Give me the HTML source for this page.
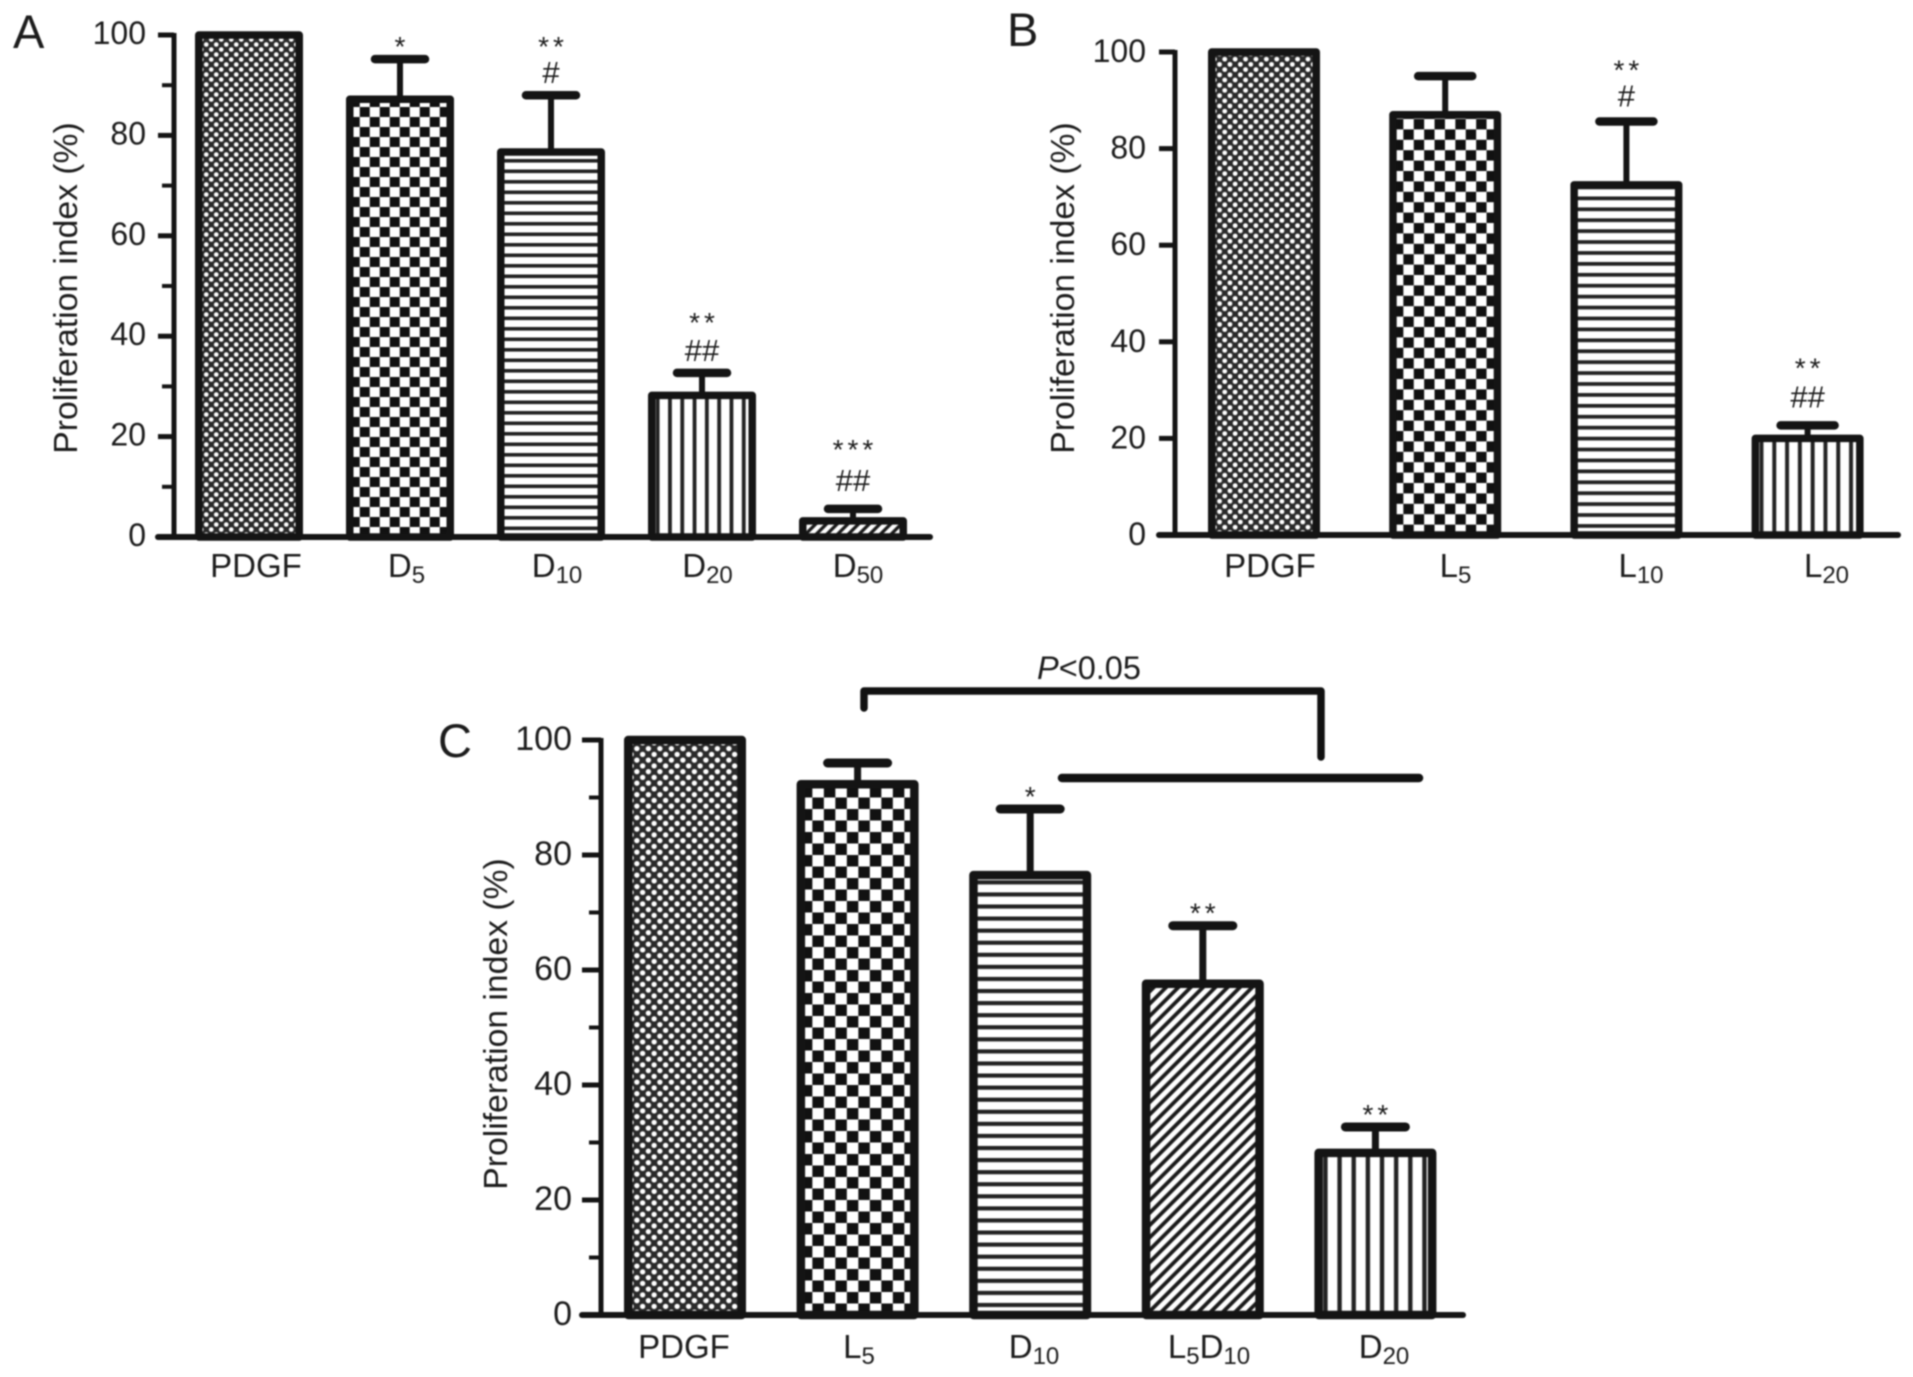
<!DOCTYPE html>
<html>
<head>
<meta charset="utf-8">
<title>Proliferation index panels</title>
<style>
html,body{margin:0;padding:0;background:#fff;width:1913px;height:1377px;overflow:hidden}
svg{display:block;filter:blur(0.9px)}
text{font-family:"Liberation Sans",sans-serif;fill:#1c1c1c}
</style>
</head>
<body>
<svg id="figure" xmlns="http://www.w3.org/2000/svg" width="1913" height="1377" viewBox="0 0 1913 1377">
<defs id="defs"></defs>
<rect x="0" y="0" width="1913" height="1377" fill="#fff"/>
<g id="plots"></g>
<g>
<text x="1089" y="679" text-anchor="middle" font-size="32.5"><tspan font-style="italic">P</tspan>&lt;0.05</text>
<path d="M864 708 V691 H1321 V757" fill="none" stroke="#111" stroke-width="7.5" stroke-linecap="round" stroke-linejoin="round"/>
<path d="M1062 778 H1419" fill="none" stroke="#111" stroke-width="8.5" stroke-linecap="round"/>
</g>
</svg>
<script>
// Panel A
const categoriesA = ['PDGF', 'D5', 'D10', 'D20', 'D50'];
const valuesA = [100, 87.2, 76.7, 28.2, 3.2];
const errorTopsA = [null, 95.2, 88, 32.7, 5.6];
const starsA = ['', '*', '**', '**', '***'];
const hashesA = ['', '', '#', '##', '##'];
const patternsA = ['dots', 'checker', 'hlines', 'vlines', 'diag'];

// Panel B
const categoriesB = ['PDGF', 'L5', 'L10', 'L20'];
const valuesB = [100, 87, 72.5, 20];
const errorTopsB = [null, 95, 85.6, 22.7];
const starsB = ['', '', '**', '**'];
const hashesB = ['', '', '#', '##'];
const patternsB = ['dots', 'checker', 'hlines', 'vlines'];

// Panel C
const categoriesC = ['PDGF', 'L5', 'D10', 'L5D10', 'D20'];
const valuesC = [100, 92.3, 76.5, 57.6, 28.2];
const errorTopsC = [null, 96, 88, 67.7, 32.7];
const starsC = ['', '', '*', '**', '**'];
const hashesC = ['', '', '', '', ''];
const patternsC = ['dots', 'checker', 'hlines', 'diag', 'vlines'];

// Shared axis
const majorTicks = [0, 20, 40, 60, 80, 100];
const minorTicks = [10, 30, 50, 70, 90];
const yAxisTitle = 'Proliferation index (%)';

const NS = 'http://www.w3.org/2000/svg';
const DARK = '#141414';
const plots = document.getElementById('plots');
const defs = document.getElementById('defs');

function make(tag, attrs, parent) {
  const node = document.createElementNS(NS, tag);
  for (const k in attrs) node.setAttribute(k, attrs[k]);
  if (parent) parent.appendChild(node);
  return node;
}

function makePattern(id, kind, scale, ox, oy) {
  const cell = { dots: 10, checker: 20, hlines: 10.5, vlines: 12.3, diag: 10.7 }[kind];
  const p = make('pattern', {
    id: id,
    patternUnits: 'userSpaceOnUse',
    width: cell,
    height: kind === 'vlines' ? 10 : cell,
    patternTransform: 'translate(' + ox + ' ' + oy + ') scale(' + scale + ')'
  }, defs);
  if (kind === 'dots') {
    make('rect', { x: 0, y: 0, width: 10, height: 10, fill: '#2a2a2a' }, p);
    make('circle', { cx: 2.5, cy: 2.5, r: 2.3, fill: '#ffffff' }, p);
    make('circle', { cx: 7.5, cy: 7.5, r: 2.3, fill: '#ffffff' }, p);
  } else if (kind === 'checker') {
    make('rect', { x: 0, y: 0, width: 20, height: 20, fill: '#fff' }, p);
    make('rect', { x: 0, y: 0, width: 10, height: 10, fill: '#111' }, p);
    make('rect', { x: 10, y: 10, width: 10, height: 10, fill: '#111' }, p);
  } else if (kind === 'hlines') {
    make('rect', { x: 0, y: 0, width: 10.5, height: 10.5, fill: '#fff' }, p);
    make('rect', { x: 0, y: 0, width: 10.5, height: 3.6, fill: '#222' }, p);
  } else if (kind === 'vlines') {
    make('rect', { x: 0, y: 0, width: 12.3, height: 10, fill: '#fff' }, p);
    make('rect', { x: 4, y: 0, width: 3.8, height: 10, fill: '#222' }, p);
  } else {
    make('rect', { x: 0, y: 0, width: 10.7, height: 10.7, fill: '#fff' }, p);
    make('path', { d: 'M-2.7 2.7 L2.7 -2.7 M0 10.7 L10.7 0 M8 13.4 L13.4 8', stroke: '#1a1a1a', 'stroke-width': 3.3 }, p);
  }
}

function drawCategoryLabel(parent, text, x, baseline, size, subSize) {
  const t = make('text', { x: x, y: baseline, 'text-anchor': 'middle', 'font-size': size }, parent);
  const parts = text.match(/[A-Z]+|\d+/g);
  parts.forEach(function (part) {
    if (/\d/.test(part)) {
      make('tspan', { 'font-size': subSize, dy: 6 }, t).textContent = part;
    } else {
      const prevSub = t.lastChild !== null;
      make('tspan', prevSub ? { dy: -6 } : {}, t).textContent = part;
    }
  });
  return t;
}

function drawPanel(cfg) {
  const yScale = function (v) { return cfg.y0 - v * (cfg.y0 - cfg.y100) / 100; };
  const xScale = function (i) { return cfg.x0 + i * cfg.step; };
  const labelX = function (i) { return cfg.labelX0 + i * cfg.labelStep; };
  const g = make('g', {}, plots);
  
  

  const letter = make('text', { x: cfg.letterX, y: cfg.letterY, 'font-size': 47 }, g);
  letter.textContent = cfg.key;
  
  

  const title = make('text', {
    x: 0, y: 0, 'font-size': 33.7, 'text-anchor': 'middle',
    transform: 'translate(' + cfg.titleX + ' ' + cfg.titleY + ') rotate(-90)'
  }, g);
  title.textContent = yAxisTitle;
  
  

  cfg.categories.forEach(function (cat, i) {
    const cx = xScale(i);
    const top = yScale(cfg.values[i]);
    const pid = 'pat-' + cfg.key + '-' + i;
    const sw = cfg.barStroke;
    makePattern(pid, cfg.patterns[i], cfg.patternScale, cx - cfg.barWidth / 2 + sw / 2, cfg.y0);

    if (cfg.errorTops[i] !== null) {
      const capY = yScale(cfg.errorTops[i]);
      const stem = make('line', { x1: cx, x2: cx, y1: top, y2: capY, stroke: DARK, 'stroke-width': cfg.stemWidth }, g);
      
      
      const cap = make('line', {
        x1: cx - cfg.capHalf, x2: cx + cfg.capHalf, y1: capY, y2: capY,
        stroke: DARK, 'stroke-width': cfg.capWidth, 'stroke-linecap': 'round'
      }, g);
      
      

      const hashText = cfg.hashes[i];
      const starText = cfg.stars[i];
      const nudge = cfg.nudges[cat] || { hash: 0, star: 0 };
      const hashY = capY - cfg.hashGap - nudge.hash;
      if (hashText) {
        const h = make('text', { x: cx, y: hashY + 11, 'font-size': 31, 'text-anchor': 'middle' }, g);
        h.textContent = hashText;
        
        
      }
      if (starText) {
        const starY = hashText ? capY - cfg.hashGap - cfg.starGap - nudge.star : capY - cfg.starOnlyGap;
        const s = make('text', {
          x: cx + 2, y: starY + 16, 'font-size': 28, 'text-anchor': 'middle', 'letter-spacing': 4
        }, g);
        s.textContent = starText;
        
        
      }
    }

    const bar = make('rect', {
      x: cx - cfg.barWidth / 2 + sw / 2,
      y: top,
      width: cfg.barWidth - sw,
      height: cfg.y0 - top,
      fill: 'url(#' + pid + ')',
      stroke: DARK,
      'stroke-width': sw,
      'stroke-linejoin': 'round'
    }, g);
    
    

    const lab = drawCategoryLabel(g, cat, labelX(i), cfg.labelY, cfg.labelSize, cfg.subSize);
    
    
  });

  const xAxis = make('line', {
    x1: cfg.xAxisStart, x2: cfg.xAxisEnd, y1: cfg.y0, y2: cfg.y0,
    stroke: DARK, 'stroke-width': 6, 'stroke-linecap': 'round'
  }, g);
  
  

  const yAxis = make('line', {
    x1: cfg.axisX, x2: cfg.axisX, y1: cfg.y100 - 2, y2: cfg.y0,
    stroke: DARK, 'stroke-width': 5
  }, g);
  
  

  majorTicks.forEach(function (v) {
    const ty = yScale(v);
    const tick = make('line', {
      x1: cfg.xAxisStart, x2: cfg.axisX, y1: ty, y2: ty, stroke: DARK, 'stroke-width': 5
    }, g);
    
    
    const tl = make('text', {
      x: cfg.tickLabelX, y: ty + cfg.tickBaseline, 'text-anchor': 'end', 'font-size': cfg.tickSize
    }, g);
    tl.textContent = String(v);
    
    
  });

  if (cfg.minor) {
    minorTicks.forEach(function (v) {
      const ty = yScale(v);
      const mt = make('line', {
        x1: cfg.axisX - 12, x2: cfg.axisX, y1: ty, y2: ty, stroke: DARK, 'stroke-width': 4
      }, g);
      
      
    });
  }
}

drawPanel({
  key: 'A', categories: categoriesA, values: valuesA, errorTops: errorTopsA,
  stars: starsA, hashes: hashesA, patterns: patternsA,
  y0: 537, y100: 35, x0: 249, step: 151, barWidth: 108, barStroke: 7.5,
  stemWidth: 6, capWidth: 8.5, capHalf: 25, patternScale: 1,
  hashGap: 23, starGap: 32, starOnlyGap: 19, nudges: { D50: { hash: 6, star: 11 }, D20: { hash: 0, star: 2 } },
  labelX0: 256, labelStep: 150.5, labelY: 577, labelSize: 33, subSize: 24,
  xAxisStart: 158, xAxisEnd: 930, axisX: 174, tickLabelX: 146, tickSize: 32, tickBaseline: 9,
  titleX: 77, titleY: 288, letterX: 13, letterY: 48, minor: true
});

drawPanel({
  key: 'B', categories: categoriesB, values: valuesB, errorTops: errorTopsB,
  stars: starsB, hashes: hashesB, patterns: patternsB,
  y0: 535, y100: 52, x0: 1264, step: 181.2, barWidth: 112, barStroke: 7.5,
  stemWidth: 6, capWidth: 8.5, capHalf: 27, patternScale: 1.04,
  hashGap: 26, starGap: 32, starOnlyGap: 19, nudges: { L20: { hash: 3, star: 6 } },
  labelX0: 1270, labelStep: 185.5, labelY: 577, labelSize: 33, subSize: 24,
  xAxisStart: 1159, xAxisEnd: 1898, axisX: 1175, tickLabelX: 1146, tickSize: 32, tickBaseline: 10,
  titleX: 1074, titleY: 288, letterX: 1007, letterY: 46, minor: false
});

drawPanel({
  key: 'C', categories: categoriesC, values: valuesC, errorTops: errorTopsC,
  stars: starsC, hashes: hashesC, patterns: patternsC,
  y0: 1315, y100: 740, x0: 685, step: 172.6, barWidth: 122, barStroke: 8.5,
  stemWidth: 7, capWidth: 9, capHalf: 30, patternScale: 1.15,
  hashGap: 23, starGap: 32, starOnlyGap: 19, nudges: {},
  labelX0: 684, labelStep: 175, labelY: 1358, labelSize: 33, subSize: 24,
  xAxisStart: 582, xAxisEnd: 1463, axisX: 601, tickLabelX: 572, tickSize: 34, tickBaseline: 10,
  titleX: 507, titleY: 1024, letterX: 438, letterY: 757, minor: true
});
</script>
</body>
</html>
